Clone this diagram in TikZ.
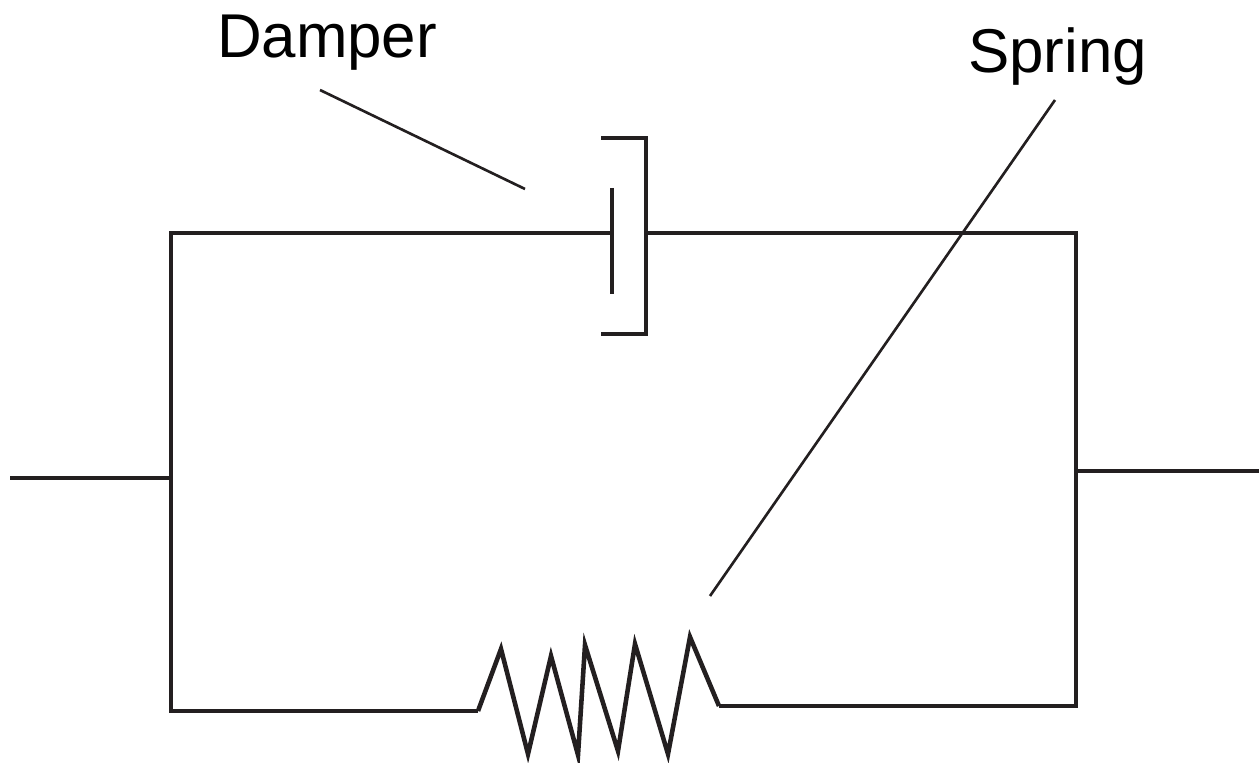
\documentclass[tikz,border=0pt]{standalone}
\usepackage{fontspec}
\setmainfont{Liberation Sans}
\usepackage{xcolor}
\usetikzlibrary{calc}
\definecolor{mechInk}{RGB}{35,31,32}
\tikzset{
  mechline/.style={draw=mechInk,line width=1.3pt,line join=miter},
  leaderline/.style={draw=mechInk,line width=0.75pt},
  partlabel/.style={font=\fontsize{17.6}{20}\selectfont,text=black,inner sep=0pt}
}
\begin{document}
\begin{tikzpicture}
  \useasboundingbox (0,0) rectangle (12.59,7.62);
  \node[partlabel] (damperlabel) at (3.27,7.19) {Damper};
  \node[partlabel] (springlabel) at (10.575,7.05) {Spring};
  \coordinate (inL) at (0.10,2.84);
  \coordinate (inR) at (1.71,2.84);
  \coordinate (TL) at (1.71,5.29);
  \coordinate (BL) at (1.71,0.51);
  \coordinate (TR) at (10.76,5.29);
  \coordinate (BR) at (10.76,0.56);
  \coordinate (outL) at (10.76,2.91);
  \coordinate (outR) at (12.59,2.91);
  \coordinate (rodL) at (6.12,5.29);
  \coordinate (rodR) at (6.46,5.29);
  \coordinate (dTip) at (5.25,5.73);
  \coordinate (sTip) at (7.10,1.66);
  % frame and terminals
  \draw[mechline] (rodL)--(TL)--(BL)--(4.78,0.51);
  \draw[mechline] (rodR)--(TR)--(BR)--(7.19,0.56);
  \draw[mechline] (inL)--(inR);
  \draw[mechline] (outL)--(outR);
  % damper
  \draw[mechline] (6.12,5.74)--(6.12,4.68);
  \draw[mechline] (6.01,6.24)--(6.46,6.24)--(6.46,4.28)--(6.01,4.28);
  % spring
  \draw[mechline] (4.78,0.51)--(5.01,1.13)--(5.28,0.08)--(5.51,1.06)--(5.78,0.07)
    --(5.85,1.17)--(6.18,0.11)--(6.35,1.18)--(6.68,0.08)--(6.90,1.25)--(7.19,0.56);
  % leaders
  \draw[leaderline] (3.20,6.72)--(dTip);
  \draw[leaderline] (10.55,6.62)--(sTip);
\end{tikzpicture}
\end{document}
